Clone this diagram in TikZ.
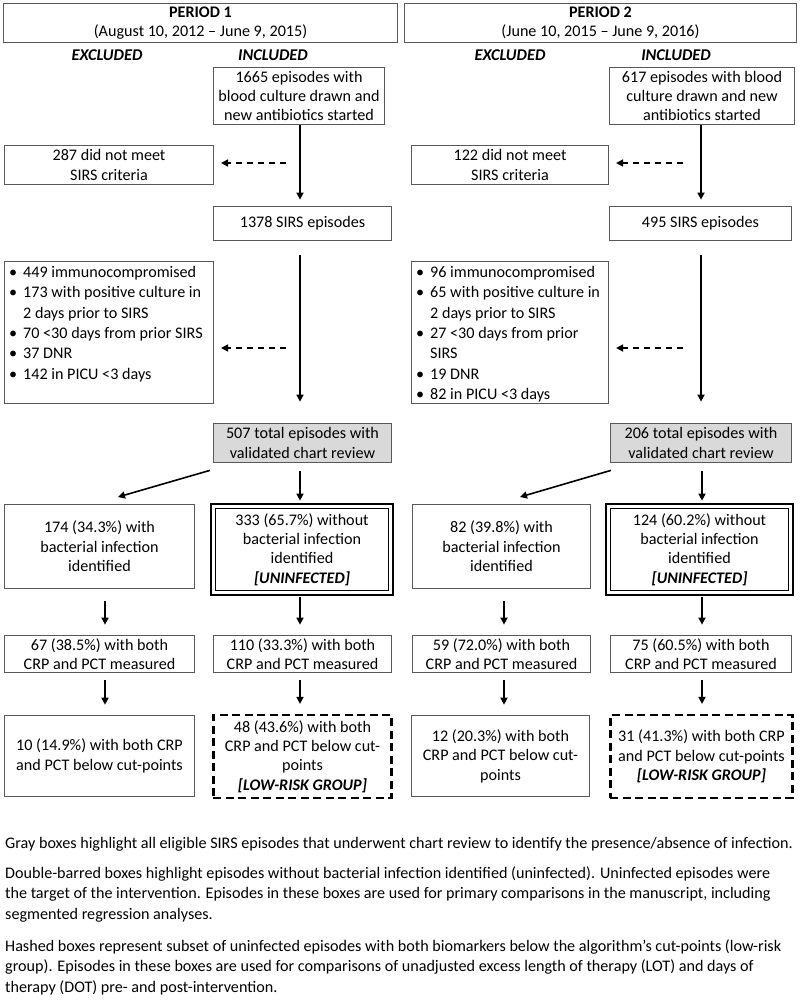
\documentclass[tikz,border=0pt]{standalone}
\usepackage{fontspec}
\setmainfont{Carlito}
\usetikzlibrary{arrows.meta}

\newcommand{\bul}{\makebox[14bp][l]{\textbullet}}
\newcommand{\hang}{\hspace*{14bp}}

\begin{document}
\begin{tikzpicture}[x=1bp,y=-1bp,
    font=\fontsize{16.2}{19.5}\selectfont,
    box/.style={draw=black!65, line width=0.9bp, align=center, inner sep=1bp},
    greybox/.style={box, fill=black!15},
    dblbox/.style={draw=black, line width=1bp, align=center, inner sep=1bp},
    hashbox/.style={draw=black, line width=2.5bp, dash pattern=on 8bp off 4.5bp, align=center, inner sep=1bp},
    sz/.style 2 args={minimum width=#1, minimum height=#2},
    arr/.style={-{Triangle[length=7bp,width=7bp]}, line width=1.6bp},
    darr/.style={arr, dash pattern=on 6bp off 5bp},
    lbl/.style={font=\fontsize{16.5}{19}\selectfont\bfseries\itshape},
    list/.style={anchor=north west, align=left, inner sep=0pt, font=\fontsize{16.2}{20.4}\selectfont},
    note/.style={anchor=north west, align=left, inner sep=0pt, font=\fontsize{16.2}{21}\selectfont}]

    \useasboundingbox (0,0) rectangle (800,1008);

    % headers
    \node[box, sz={395}{40}] (per1) at (200.5,23) {\textbf{PERIOD 1}\\(August 10, 2012 – June 9, 2015)};
    \node[box, sz={393}{40}] (per2) at (600.5,23) {\textbf{PERIOD 2}\\(June 10, 2015 – June 9, 2016)};
    \node[lbl] (exc1) at (107,55) {EXCLUDED};
    \node[lbl] (inc1) at (273,55) {INCLUDED};
    \node[lbl] (exc2) at (510,55) {EXCLUDED};
    \node[lbl] (inc2) at (676,55) {INCLUDED};

    % period 1
    \node[box, sz={172}{58}] (a1) at (299,96) {1665 episodes with\\blood culture drawn and\\new antibiotics started};
    \node[box, sz={210}{40}] (ex1a) at (109,165) {287 did not meet\\SIRS criteria};
    \node[box, sz={179}{35}] (s1) at (302.5,223.5) {1378 SIRS episodes};
    \node[box, sz={210}{143}] (ex1b) at (109,332.5) {};
    \node[list] (ex1btxt) at (9,266)
        {\bul 449 immunocompromised\\\bul 173 with positive culture in\\\hang 2 days prior to SIRS\\\bul 70 <30 days from prior SIRS\\\bul 37 DNR\\\bul 142 in PICU <3 days};
    \node[greybox, sz={179}{40}] (g1) at (302.5,443) {507 total episodes with\\validated chart review};
    \node[box, sz={191}{85}] (i1) at (99.5,546.5) {174 (34.3\%) with\\bacterial infection\\identified};
    \node[dblbox, sz={174}{83}] (u1) at (302,549.5) {333 (65.7\%) without\\bacterial infection\\identified\\\textbf{\textit{[UNINFECTED]}}};
    \draw[line width=2bp] ([shift={(-3.5,-3.5)}]u1.north west) rectangle ([shift={(3.5,3.5)}]u1.south east);
    \node[box, sz={191}{38}] (m1) at (99.5,654) {67 (38.5\%) with both\\CRP and PCT measured};
    \node[box, sz={179}{38}] (m2) at (302.5,654) {110 (33.3\%) with both\\CRP and PCT measured};
    \node[box, sz={191}{82}] (n1) at (99.5,756) {10 (14.9\%) with both CRP\\and PCT below cut-points};
    \node[hashbox, sz={179}{83}] (n2) at (302.5,756.5) {48 (43.6\%) with both\\CRP and PCT below cut-\\points\\\textbf{\textit{[LOW-RISK GROUP]}}};

    % period 2
    \node[box, sz={186}{58}] (a2) at (702,96) {617 episodes with blood\\culture drawn and new\\antibiotics started};
    \node[box, sz={198}{40}] (ex2a) at (510,165) {122 did not meet\\SIRS criteria};
    \node[box, sz={183}{35}] (s2) at (700.5,223.5) {495 SIRS episodes};
    \node[box, sz={198}{143}] (ex2b) at (510,332.5) {};
    \node[list] (ex2btxt) at (416,266)
        {\bul 96 immunocompromised\\\bul 65 with positive culture in\\\hang 2 days prior to SIRS\\\bul 27 <30 days from prior\\\hang SIRS\\\bul 19 DNR\\\bul 82 in PICU <3 days};
    \node[greybox, sz={182}{40}] (g2) at (701,443) {206 total episodes with\\validated chart review};
    \node[box, sz={179}{85}] (i2) at (501.5,546.5) {82 (39.8\%) with\\bacterial infection\\identified};
    \node[dblbox, sz={179}{83}] (u2) at (699.5,549.5) {124 (60.2\%) without\\bacterial infection\\identified\\\textbf{\textit{[UNINFECTED]}}};
    \draw[line width=2bp] ([shift={(-3.5,-3.5)}]u2.north west) rectangle ([shift={(3.5,3.5)}]u2.south east);
    \node[box, sz={179}{38}] (m3) at (501.5,654) {59 (72.0\%) with both\\CRP and PCT measured};
    \node[box, sz={182}{38}] (m4) at (701,654) {75 (60.5\%) with both\\CRP and PCT measured};
    \node[box, sz={179}{82}] (n3) at (500.5,756) {12 (20.3\%) with both\\CRP and PCT below cut-\\points};
    \node[hashbox, sz={183}{83}] (n4) at (701.5,756.5) {31 (41.3\%) with both CRP\\and PCT below cut-points\\\textbf{\textit{[LOW-RISK GROUP]}}};

    % free ends
    \coordinate (d1) at (286,163);
    \coordinate (d2) at (286,348);
    \coordinate (d3) at (683,163);
    \coordinate (d4) at (683,348);
    \coordinate (c1) at (118,497);
    \coordinate (c2) at (520,497);

    % connectors, period 1
    \draw[arr, shorten >=6bp] (a1.south -| 300,0) -- (s1.north -| 300,0);
    \draw[darr, shorten >=7bp] (d1) -- (ex1a.east |- d1);
    \draw[arr, shorten <=14bp, shorten >=21bp] (s1.south -| 300,0) -- (g1.north -| 300,0);
    \draw[darr, shorten >=7bp] (d2) -- (ex1b.east |- d2);
    \draw[arr, shorten <=8bp, shorten >=7bp] (g1.south -| 300,0) -- (u1.north -| 300,0);
    \draw[arr] ([shift={(-3,7)}]g1.south west) -- (c1);
    \draw[arr, shorten <=12bp, shorten >=10bp] (i1.south -| 105,0) -- (m1.north -| 105,0);
    \draw[arr, shorten <=6bp, shorten >=10bp] (u1.south -| 300,0) -- (m2.north -| 300,0);
    \draw[arr, shorten <=7bp, shorten >=10bp] (m1.south -| 105,0) -- (n1.north -| 105,0);
    \draw[arr, shorten <=7bp, shorten >=10bp] (m2.south -| 300,0) -- (n2.north -| 300,0);

    % connectors, period 2
    \draw[arr, shorten >=6bp] (a2.south -| 701,0) -- (s2.north -| 701,0);
    \draw[darr, shorten >=7bp] (d3) -- (ex2a.east |- d3);
    \draw[arr, shorten <=14bp, shorten >=21bp] (s2.south -| 701,0) -- (g2.north -| 701,0);
    \draw[darr, shorten >=7bp] (d4) -- (ex2b.east |- d4);
    \draw[arr, shorten <=8bp, shorten >=7bp] (g2.south -| 702,0) -- (u2.north -| 702,0);
    \draw[arr] ([shift={(1,7)}]g2.south west) -- (c2);
    \draw[arr, shorten <=12bp, shorten >=10bp] (i2.south -| 504,0) -- (m3.north -| 504,0);
    \draw[arr, shorten <=6bp, shorten >=10bp] (u2.south -| 702,0) -- (m4.north -| 702,0);
    \draw[arr, shorten <=7bp, shorten >=10bp] (m3.south -| 504,0) -- (n3.north -| 504,0);
    \draw[arr, shorten <=7bp, shorten >=10bp] (m4.south -| 702,0) -- (n4.north -| 702,0);

    % notes
    \node[note] (note1) at (5,837) {Gray boxes highlight all eligible SIRS episodes that underwent chart review to identify the presence/absence of infection.};
    \node[note] (note2) at (5,866) {Double-barred boxes highlight episodes without bacterial infection identified (uninfected). Uninfected episodes were\\the target of the intervention. Episodes in these boxes are used for primary comparisons in the manuscript, including\\segmented regression analyses.};
    \node[note] (note3) at (5,939) {Hashed boxes represent subset of uninfected episodes with both biomarkers below the algorithm’s cut-points (low-risk\\group). Episodes in these boxes are used for comparisons of unadjusted excess length of therapy (LOT) and days of\\therapy (DOT) pre- and post-intervention.};
\end{tikzpicture}
\end{document}
